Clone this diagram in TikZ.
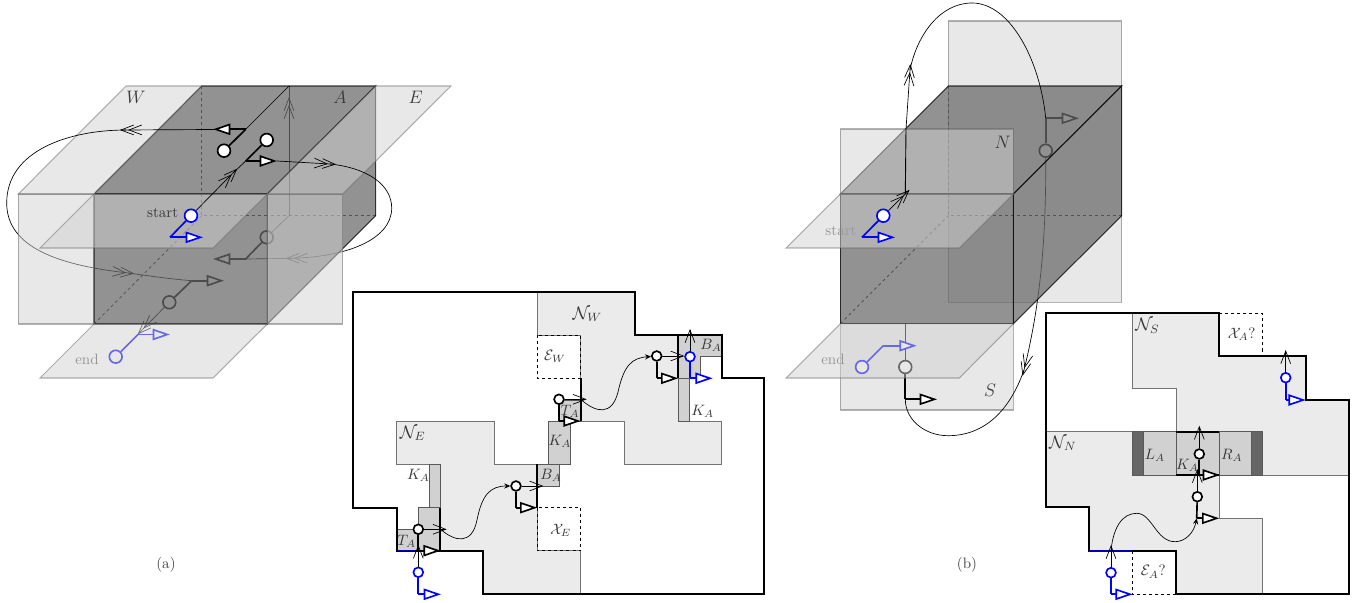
\documentclass[tikz,border=0pt]{standalone}
\usepackage{tikz}
\usetikzlibrary{shapes, arrows, arrows.meta, positioning, calc}

\begin{document}
\begin{tikzpicture}[x=0.665pt, y=-0.665pt]
    \tikzstyle{plane} = [fill=black!18, draw=black!60, line width=0.7pt, opacity=0.5]
    \tikzstyle{darkface} = [fill=black!59, draw=black, line width=0.7pt, opacity=0.73]
    \tikzstyle{hidden} = [dashed, dash pattern=on 2pt off 2pt, line width=0.5pt, black!90]
    \tikzstyle{thinpath} = [line width=0.45pt, >={Straight Barb[length=8.5pt,width=6.5pt,sep=-4pt]}]
    \tikzstyle{boldpath} = [line width=1.1pt]
    \tikzstyle{bigarrow} = [line width=1.1pt, -{Triangle[fill=white,length=11.5pt,width=7.5pt]}]
    \tikzstyle{hub} = [draw, circle, fill=white, line width=1.1pt, minimum size=8.5pt, inner sep=0pt]
    \tikzstyle{dot} = [draw, circle, fill=white, line width=1.1pt, minimum size=6.5pt, inner sep=0pt]
    \tikzstyle{region} = [fill=black!8, draw=black!55, line width=0.6pt]
    \tikzstyle{strip} = [fill=black!18, draw=black!65, line width=0.5pt]
    \tikzstyle{border} = [line width=1.5pt, line join=miter]
    \tikzstyle{dashbox} = [dashed, dash pattern=on 2pt off 2pt, line width=0.5pt]
    \tikzstyle{lab} = [text=black!78, inner sep=0pt]
    \tikzstyle{fadedlab} = [text=black!65, inner sep=0pt]

    \useasboundingbox (0, 0) rectangle (1359, 603);

    % (a) box
    \draw[hidden] (201.7, 86) -- (201.7, 215.7) -- (375.7, 215.7);
    \draw[hidden] (94, 324) -- (201.7, 215.7);

    \coordinate (a_top) at (289, 86);
    \coordinate (a_back) at (289, 215.7);
    \coordinate (a_up) at (289, 103);
    \draw[thinpath, ->>] (a_back) -- (a_up);
    \draw[thinpath] (a_up) -- (a_top);

    \node[hub] (a_east) at (266.7, 237.3) {};
    \coordinate (a_eastfoot) at (245.7, 259);
    \coordinate (a_eastdir) at (213, 259);
    \draw[thinpath] (a_back) -- (a_east);
    \draw[boldpath] (a_east) -- (a_eastfoot);
    \draw[bigarrow] (a_eastfoot) -- (a_eastdir);

    \coordinate (a_right) at (391.7, 208);
    \coordinate (a_rightlow) at (291.7, 258.3);
    \draw[thinpath, ->>] (a_right) .. controls (391.7, 240) and (345, 258) .. (a_rightlow);
    \draw[thinpath] (a_rightlow) -- (a_eastfoot);

    \node[hub] (a_west) at (169.3, 302.3) {};
    \coordinate (a_westfoot) at (191.7, 280.7);
    \coordinate (a_westdir) at (224, 280.7);
    \coordinate (a_left) at (6.7, 203);
    \coordinate (a_leftlow) at (128.3, 273);
    \draw[thinpath, ->>] (a_left) .. controls (6.7, 248) and (60, 266) .. (a_leftlow);
    \draw[thinpath] (a_leftlow) .. controls (150, 276) and (170, 279) .. (a_westfoot);
    \draw[boldpath] (a_west) -- (a_westfoot);
    \draw[bigarrow] (a_westfoot) -- (a_westdir);
    \coordinate (a_down) at (142, 330);
    \draw[thinpath, ->>] (a_west) -- (a_down);

    \node[hub, draw=blue] (a_end) at (115.7, 356.7) {};
    \coordinate (a_endfoot) at (138, 334.5);
    \coordinate (a_enddir) at (170, 334.5);
    \draw[boldpath, blue] (a_end) -- (a_endfoot);
    \draw[bigarrow, blue] (a_endfoot) -- (a_enddir);
    \node[fadedlab] (a_endlab) at (87, 359) {end};

    \draw[darkface] (201.7, 86) -- (375.7, 86) -- (267.3, 194) -- (94, 194) -- cycle;
    \draw[darkface] (94, 194) rectangle (267.3, 324);
    \draw[darkface] (267.3, 194) -- (375.7, 86) -- (375.7, 215.7) -- (267.3, 324) -- cycle;

    \draw[plane] (18.3, 194) rectangle (94, 324);
    \draw[plane] (267.3, 194) rectangle (342.7, 324);
    \draw[plane] (126, 86) -- (201.7, 86) -- (94, 194) -- (18.3, 194) -- cycle;
    \draw[plane] (375.7, 86) -- (451, 86) -- (342.7, 194) -- (267.3, 194) -- cycle;
    \draw[plane] (94, 194) -- (267.3, 194) -- (213, 248) -- (40, 248) -- cycle;
    \draw[plane] (94, 324) -- (267.3, 324) -- (213, 378) -- (40, 378) -- cycle;

    \node[lab] (a_w) at (136, 97) {\large $W$};
    \node[lab] (a_a) at (340, 97) {\large $A$};
    \node[lab] (a_e) at (415.7, 97) {\large $E$};
    \node[lab] (a_startlab) at (162.7, 213.3) {start};

    \node[hub] (a_far) at (224, 150.7) {};
    \node[hub] (a_near) at (266.7, 140) {};
    \node[hub, draw=blue] (a_start) at (191, 215.7) {};
    \coordinate (a_farfoot) at (245.7, 129.3);
    \coordinate (a_fardir) at (213, 129.3);
    \coordinate (a_nearfoot) at (245.7, 161);
    \coordinate (a_neardir) at (277, 161);
    \coordinate (a_mid) at (233, 173);
    \coordinate (a_leftup) at (126, 130);
    \coordinate (a_rightup) at (330, 164);
    \draw[thinpath] (a_top) -- (a_farfoot);
    \draw[boldpath] (a_far) -- (a_farfoot);
    \draw[thinpath, ->>] (a_farfoot) -- (a_leftup);
    \draw[thinpath] (a_leftup) .. controls (70, 130) and (6.7, 150) .. (a_left);
    \draw[bigarrow] (a_farfoot) -- (a_fardir);
    \draw[thinpath, ->>] (a_start) -- (a_mid);
    \draw[thinpath] (a_mid) -- (a_nearfoot);
    \draw[boldpath] (a_near) -- (a_nearfoot);
    \draw[thinpath, ->>] (a_neardir) -- (a_rightup);
    \draw[thinpath] (a_rightup) .. controls (368, 168) and (391.7, 185) .. (a_right);
    \draw[bigarrow] (a_nearfoot) -- (a_neardir);
    \coordinate (a_startfoot) at (170, 237.3);
    \coordinate (a_startdir) at (203, 237.3);
    \draw[boldpath, blue] (a_start) -- (a_startfoot);
    \draw[bigarrow, blue] (a_startfoot) -- (a_startdir);

    % (a) map
    \draw[region] (537.3, 291.7) -- (635, 291.7) -- (635, 335) -- (678.3, 335) -- (678.3, 421) -- (721.7, 421) -- (721.7, 464.3) -- (624, 464.3) -- (624, 421) -- (580.7, 421) -- (580.7, 335) -- (537.3, 335) -- cycle;
    \draw[region] (396.7, 421) -- (494.3, 421) -- (494.3, 464.3) -- (537.3, 464.3) -- (537.3, 550.7) -- (580.7, 550.7) -- (580.7, 594.3) -- (483.3, 594.3) -- (483.3, 550.7) -- (418.3, 550.7) -- (418.3, 507.7) -- (429.3, 507.7) -- (429.3, 464.3) -- (396.7, 464.3) -- cycle;
    \draw[strip] (678.3, 335) -- (721.7, 335) -- (721.7, 356.7) -- (700, 356.7) -- (700, 378.3) -- (678.3, 378.3) -- cycle;
    \draw[strip] (678.3, 378.3) rectangle (689.3, 421);
    \draw[strip] (559.3, 400) rectangle (580.7, 421);
    \draw[strip] (548.3, 421) rectangle (570, 464.3);
    \draw[strip] (537.3, 464.3) rectangle (559.3, 486);
    \draw[strip] (429.3, 464.3) rectangle (440, 507.7);
    \draw[strip] (418.3, 507.7) rectangle (440, 550.7);
    \draw[strip] (396.7, 529.3) rectangle (418.3, 550.7);
    \draw[dashbox] (537.3, 335) rectangle (580.7, 378.3);
    \draw[dashbox] (537.3, 507.7) rectangle (580.7, 550.7);
    \draw[border] (353.3, 291.7) -- (635, 291.7) -- (635, 335) -- (721.7, 335) -- (721.7, 377.7) -- (764.3, 377.7) -- (764.3, 594.3) -- (483.3, 594.3) -- (483.3, 550.7) -- (396.7, 550.7) -- (396.7, 507.7) -- (353.3, 507.7) -- cycle;
    \draw[border] (537.3, 464.3) -- (537.3, 507.7);
    \draw[border] (440, 507.7) -- (440, 550.7);
    \draw[border] (580.7, 378.3) -- (580.7, 421);
    \draw[border] (678.3, 335) -- (678.3, 378.3);
    \draw[line width=0.9pt, blue!70!black] (396.7, 550.7) -- (418.3, 550.7);

    \node[lab] (m_nw) at (587.3, 314.3) {\large $\mathcal{N}_W$};
    \node[lab] (m_ne) at (412.7, 433.3) {\large $\mathcal{N}_E$};
    \node[lab] (m_ew) at (555, 356.7) {$\mathcal{E}_W$};
    \node[lab] (m_xe) at (560.7, 530) {$\mathcal{X}_E$};
    \node[lab] (m_k1) at (418.3, 475) {$K_A$};
    \node[lab] (m_k2) at (560, 441.7) {$K_A$};
    \node[lab] (m_k3) at (702.7, 411) {$K_A$};
    \node[lab] (m_b1) at (711, 345) {$B_A$};
    \node[lab] (m_b2) at (551, 475) {$B_A$};
    \node[lab] (m_t1) at (406.7, 541.7) {$T_A$};
    \node[lab] (m_t2) at (570, 411) {$T_A$};

    \node[dot] (m_d1) at (418.3, 529.3) {};
    \node[dot] (m_d2) at (516, 486) {};
    \node[dot] (m_d3) at (559, 399.3) {};
    \node[dot] (m_d4) at (656.7, 356) {};
    \node[dot, draw=blue] (m_in) at (418.3, 572.3) {};
    \node[dot, draw=blue] (m_out) at (690, 356.7) {};
    \coordinate (m_f1) at (418.3, 550.7);
    \coordinate (m_f2) at (516, 507.7);
    \coordinate (m_f3) at (559, 421);
    \coordinate (m_f4) at (656.7, 378.3);
    \coordinate (m_r1) at (440.7, 529.3);
    \coordinate (m_r2) at (537.3, 486);
    \coordinate (m_r3) at (580.7, 399.3);
    \coordinate (m_r4) at (678.3, 356);
    \coordinate (m_u2) at (690, 335);
    \coordinate (m_b3) at (418.3, 594.3);
    \coordinate (m_b4) at (690, 378.3);
    \draw[boldpath] (m_d1) -- (m_f1);
    \draw[bigarrow] (m_f1) -- (440.7, 550.7);
    \draw[boldpath] (m_d2) -- (m_f2);
    \draw[bigarrow] (m_f2) -- (537.3, 507.7);
    \draw[boldpath] (m_d3) -- (m_f3);
    \draw[bigarrow] (m_f3) -- (580.7, 421);
    \draw[boldpath] (m_d4) -- (m_f4);
    \draw[bigarrow] (m_f4) -- (678.3, 378.3);
    \draw[thinpath, ->] (m_d1) -- (m_r1);
    \draw[thinpath, ->] (m_d2) -- (m_r2);
    \draw[thinpath, ->] (m_d3) -- (m_r3);
    \draw[thinpath, ->] (m_d4) -- (m_r4);
    \draw[thinpath, -{Stealth[length=4pt,width=3.5pt]}] (m_r1) .. controls (455, 542) and (472, 545) .. (477, 520) .. controls (482, 495) and (490, 486) .. (m_d2);
    \draw[thinpath, -{Stealth[length=4pt,width=3.5pt]}] (m_r3) .. controls (596, 413) and (612, 416) .. (618, 392) .. controls (624, 365) and (632, 358) .. (m_d4);
    \draw[thinpath, ->] (m_in) -- (m_f1);
    \draw[thinpath] (m_f1) -- (m_d1);
    \draw[thinpath, ->] (m_out) -- (m_u2);
    \draw[boldpath, blue] (m_in) -- (m_b3);
    \draw[bigarrow, blue] (m_b3) -- (441, 594.3);
    \draw[boldpath, blue] (m_out) -- (m_b4);
    \draw[bigarrow, blue] (m_b4) -- (712.7, 378.3);

    \node[text=black!75, inner sep=0pt] (a_tag) at (166, 565) {(a)};

    % (b) box
    \draw[plane] (948.3, 21) rectangle (1121.7, 302.3);
    \draw[plane] (840.3, 323.7) rectangle (1013.3, 410);
    \draw[hidden] (948.3, 86) -- (948.3, 215.7) -- (1121.7, 215.7);
    \draw[hidden] (840.3, 323.7) -- (948.3, 215.7);

    \node[hub] (b_north) at (1045.7, 150.7) {};
    \coordinate (b_northfoot) at (1045.7, 118.3);
    \coordinate (b_northdir) at (1079, 118.3);
    \draw[boldpath] (b_north) -- (b_northfoot);
    \draw[bigarrow] (b_northfoot) -- (b_northdir);
    \coordinate (b_low) at (1024, 370);
    \coordinate (b_southfoot) at (905.3, 399.3);
    \draw[thinpath, ->>] (b_north) .. controls (1046, 230) and (1042, 300) .. (b_low);
    \draw[thinpath] (b_low) .. controls (1010, 410) and (985, 435.7) .. (948, 435.7) .. controls (925, 435.7) and (905.3, 420) .. (b_southfoot);

    \node[hub] (b_south) at (905.3, 367) {};
    \coordinate (b_frontlow) at (905.3, 323.7);
    \draw[thinpath] (b_south) -- (b_frontlow);
    \draw[boldpath] (b_south) -- (b_southfoot);
    \draw[bigarrow] (b_southfoot) -- (937, 399.3);

    \node[hub, draw=blue] (b_end) at (862, 367) {};
    \coordinate (b_endfoot) at (883.3, 345.7);
    \draw[boldpath, blue] (b_end) -- (b_endfoot);
    \draw[bigarrow, blue] (b_endfoot) -- (916.7, 345.7);
    \node[fadedlab] (b_endlab) at (833, 359) {end};
    \node[fadedlab] (b_startlab) at (841, 231) {start};

    \draw[darkface] (948.3, 86) -- (1121.7, 86) -- (1013.3, 194) -- (840.3, 194) -- cycle;
    \draw[darkface] (840.3, 194) rectangle (1013.3, 323.7);
    \draw[darkface] (1013.3, 194) -- (1121.7, 86) -- (1121.7, 215.7) -- (1013.3, 323.7) -- cycle;

    \draw[plane] (840.3, 129) rectangle (1013.3, 194);
    \draw[plane] (840.3, 194) -- (1013.3, 194) -- (959.3, 248) -- (786, 248) -- cycle;
    \draw[plane] (840.3, 323.7) -- (1013.3, 323.7) -- (959.3, 378) -- (786, 378) -- cycle;

    \node[lab] (b_n) at (1002.7, 142) {\large $N$};
    \node[lab] (b_s) at (990, 390) {\large $S$};

    \node[hub, draw=blue] (b_start) at (883.3, 215.7) {};
    \coordinate (b_corner) at (905.3, 194);
    \coordinate (b_rise) at (906, 129);
    \coordinate (b_up) at (910, 70);
    \draw[thinpath, ->>] (b_start) -- (b_corner);
    \draw[line width=0.6pt] (b_corner) -- (b_rise);
    \draw[thinpath, ->>] (b_rise) -- (b_up);
    \draw[thinpath] (b_up) .. controls (917, 35) and (940, 3) .. (972, 3) .. controls (1010, 3) and (1040, 60) .. (b_northfoot);
    \coordinate (b_startfoot) at (862, 237.3);
    \draw[boldpath, blue] (b_start) -- (b_startfoot);
    \draw[bigarrow, blue] (b_startfoot) -- (895, 237.3);

    % (b) map
    \draw[region] (1132.3, 313.3) -- (1219.3, 313.3) -- (1219.3, 356) -- (1305.7, 356) -- (1305.7, 400) -- (1349, 400) -- (1349, 475) -- (1219.3, 475) -- (1219.3, 431.7) -- (1176, 431.7) -- (1176, 388.3) -- (1132.3, 388.3) -- cycle;
    \draw[region] (1046, 431.7) -- (1219.3, 431.7) -- (1219.3, 518.3) -- (1262.3, 518.3) -- (1262.3, 594.3) -- (1176, 594.3) -- (1176, 551) -- (1089.3, 551) -- (1089.3, 507.3) -- (1046, 507.3) -- cycle;
    \draw[strip, fill=black!60] (1132.3, 431.7) rectangle (1143.3, 475);
    \draw[strip, fill=black!60] (1251.7, 431.7) rectangle (1262.3, 475);
    \draw[strip] (1143.3, 431.7) rectangle (1176, 475);
    \draw[strip] (1176, 431.7) rectangle (1219.3, 475);
    \draw[strip] (1219.3, 431.7) rectangle (1251.7, 475);
    \draw[dashbox] (1219.3, 313.3) -- (1262.3, 313.3) -- (1262.3, 356);
    \draw[dashbox] (1132.3, 551) -- (1132.3, 594.3) -- (1176, 594.3);
    \draw[border] (1046, 313.3) -- (1219.3, 313.3) -- (1219.3, 356) -- (1305.7, 356) -- (1305.7, 400) -- (1349, 400) -- (1349, 594.3) -- (1176, 594.3) -- (1176, 551) -- (1089.3, 551) -- (1089.3, 507.3) -- (1046, 507.3) -- cycle;
    \draw[border] (1176, 431.7) -- (1219.3, 431.7);
    \draw[border] (1176, 475) -- (1219.3, 475);
    \draw[line width=0.9pt, blue!70!black] (1089.3, 551) -- (1132.3, 551);

    \node[lab] (n_ns) at (1147.3, 325.7) {\large $\mathcal{N}_S$};
    \node[lab] (n_nn) at (1062.7, 443.3) {\large $\mathcal{N}_N$};
    \node[lab] (n_xa) at (1241.7, 334.3) {$\mathcal{X}_A$?};
    \node[lab] (n_ea) at (1153.3, 571.7) {$\mathcal{E}_A$?};
    \node[lab] (n_la) at (1155, 455) {$L_A$};
    \node[lab] (n_ra) at (1231.7, 455) {$R_A$};
    \node[lab] (n_ka) at (1187.3, 465) {$K_A$};

    \node[dot] (n_d1) at (1197.3, 496.7) {};
    \node[dot] (n_d2) at (1199.3, 454) {};
    \node[dot, draw=blue] (n_in) at (1111, 572.7) {};
    \node[dot, draw=blue] (n_out) at (1285.7, 377.7) {};
    \coordinate (n_f1) at (1196.7, 518.3);
    \coordinate (n_f2) at (1199.3, 475);
    \coordinate (n_gate) at (1111, 551);
    \coordinate (n_exit) at (1285.7, 356);
    \coordinate (n_top) at (1199.3, 431.7);
    \coordinate (n_b1) at (1111, 594.3);
    \coordinate (n_b2) at (1285.7, 400);
    \draw[boldpath] (n_d1) -- (n_f1);
    \draw[bigarrow] (n_f1) -- (1219.3, 518.3);
    \draw[boldpath] (n_d2) -- (n_f2);
    \draw[bigarrow] (n_f2) -- (1220, 475);
    \draw[thinpath, ->] (n_d1) -- (1197.3, 475);
    \draw[thinpath, ->] (n_d2) -- (n_top);
    \draw[thinpath, ->] (n_in) -- (n_gate);
    \draw[thinpath, ->] (n_out) -- (n_exit);
    \draw[thinpath, -{Stealth[length=4pt,width=3.5pt]}] (n_gate) .. controls (1113, 528) and (1122, 513.3) .. (1136.7, 513.3) .. controls (1152, 513.3) and (1156, 541.7) .. (1175, 541.7) .. controls (1186, 541.7) and (1194, 532) .. (n_f1);
    \draw[boldpath, blue] (n_in) -- (n_b1);
    \draw[bigarrow, blue] (n_b1) -- (1132.7, 594.3);
    \draw[boldpath, blue] (n_out) -- (n_b2);
    \draw[bigarrow, blue] (n_b2) -- (1305.7, 400);

    \node[text=black!75, inner sep=0pt] (b_tag) at (967, 565) {(b)};
\end{tikzpicture}
\end{document}
